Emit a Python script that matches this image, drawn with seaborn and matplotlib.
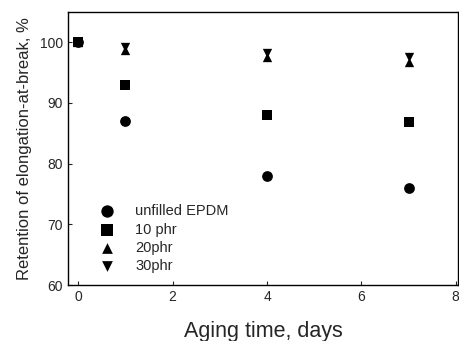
import matplotlib
matplotlib.use("Agg")
import matplotlib.pyplot as plt
import seaborn as sns
import pandas as pd

days = [0, 1, 4, 7]
unfilled = [100, 87, 78, 76]
phr10 = [100, 93, 88, 86.8]
phr20 = [100, 98.8, 97.5, 96.7]
phr30 = [100, 99.2, 98.3, 97.6]
series_names = ["unfilled EPDM", "10 phr", "20phr", "30phr"]
x_ticks = [0, 2, 4, 6, 8]
y_ticks = [60, 70, 80, 90, 100]

series_vals = [unfilled, phr10, phr20, phr30]
markers = ["o", "s", "^", "v"]
sizes = [60, 50, 45, 45]

sns.set_style("ticks")
plt.rcParams["font.family"] = ["Liberation Sans", "DejaVu Sans"]

fig = plt.figure(figsize=(4.59, 3.41), dpi=100)
ax = fig.add_axes([0.148, 0.164, 0.85, 0.801])

# draw in reverse order so the circle sits on top at day 0
for name, vals, m, sz in reversed(list(zip(series_names, series_vals, markers, sizes))):
    df = pd.DataFrame({"day": days, "value": vals})
    sns.scatterplot(data=df, x="day", y="value", marker=m, color="black",
                    s=sz, linewidth=0, label=name, ax=ax)

ax.set_xlim(-0.22, 8.05)
ax.set_ylim(60, 105)
ax.set_xticks(x_ticks)
ax.set_yticks(y_ticks)
ax.tick_params(direction="in", length=3, labelsize=10, width=0.8)
for s in ax.spines.values():
    s.set_linewidth(1.0)
    s.set_color("black")
ax.set_xlabel("Aging time, days", fontsize=15.5, labelpad=12)
ax.set_ylabel("Retention of elongation-at-break, %", fontsize=12, labelpad=6)

handles, labels = ax.get_legend_handles_labels()
ax.legend(handles[::-1], labels[::-1], loc="lower left",
          bbox_to_anchor=(0.03, -0.005), frameon=False, markerscale=1.15,
          fontsize=10.5, handletextpad=0.9, labelspacing=0.3)
fig.savefig("out.png", dpi=100)
